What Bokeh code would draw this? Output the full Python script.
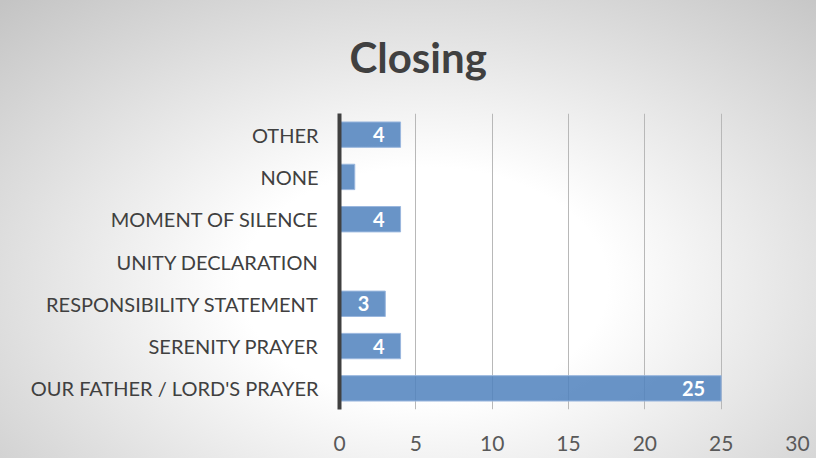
from bokeh.plotting import figure
from bokeh.models import ColumnDataSource, FixedTicker
from bokeh.core.properties import value
from bokeh.embed import file_html
from bokeh.resources import INLINE

categories = ["OUR FATHER / LORD'S PRAYER", "SERENITY PRAYER", "RESPONSIBILITY STATEMENT",
              "UNITY DECLARATION", "MOMENT OF SILENCE", "NONE", "OTHER"]
values = [25, 4, 3, 0, 4, 1, 4]
labels = ["25", "4", "3", "", "4", "", "4"]
x_ticks = [0, 5, 10, 15, 20, 25, 30]

W, H = 816, 458
p = figure(width=W, height=H, y_range=categories, x_range=(0, 30),
           output_backend="svg", toolbar_location=None,
           min_border_left=339, min_border_right=19, min_border_top=113, min_border_bottom=49)
p.background_fill_alpha = 0
p.border_fill_alpha = 0
p.outline_line_color = None
p.styles = {"background": "radial-gradient(ellipse 75% 85% at 52% 62%, #ffffff 0%, #ffffff 30%, #c4c4c4 100%)"}

p.title.text = "Closing"
p.title.text_font = "Lato"
p.title.text_font_size = "42px"
p.title.text_font_style = "bold"
p.title.text_color = "#404040"
p.title.align = "left"
p.title.vertical_align = "top"
p.title.offset = 10
p.title.standoff = 60

src = ColumnDataSource(dict(cat=categories, val=values, lab=labels))
p.hbar(y="cat", right="val", left=0, height=0.6, source=src,
       fill_color="#4f81bd", fill_alpha=0.85, line_color="#9ab7de", line_width=1)
p.text(x="val", y="cat", text="lab", source=src, x_offset=-16,
       text_align="right", text_baseline="middle", text_color="white",
       text_font_size="20px", text_font_style="bold", text_font=value("Lato"))

p.xaxis.ticker = FixedTicker(ticks=x_ticks)
p.xaxis.axis_line_color = None
p.xaxis.major_tick_line_color = None
p.xaxis.minor_tick_line_color = None
p.xaxis.major_label_standoff = 20
p.xaxis.major_label_text_font = "Lato"
p.xaxis.major_label_text_font_size = "21px"
p.xaxis.major_label_text_color = "#595959"

p.yaxis.axis_line_color = "#404040"
p.yaxis.axis_line_width = 4
p.yaxis.major_tick_line_color = None
p.yaxis.minor_tick_line_color = None
p.yaxis.major_label_standoff = 15
p.yaxis.major_label_text_font = "Lato"
p.yaxis.major_label_text_font_size = "20px"
p.yaxis.major_label_text_color = "#404040"

p.xgrid.grid_line_color = "#b8b8b8"
p.xgrid.grid_line_width = 1
p.ygrid.grid_line_color = None

open("out.html", "w").write(file_html(p, INLINE))
